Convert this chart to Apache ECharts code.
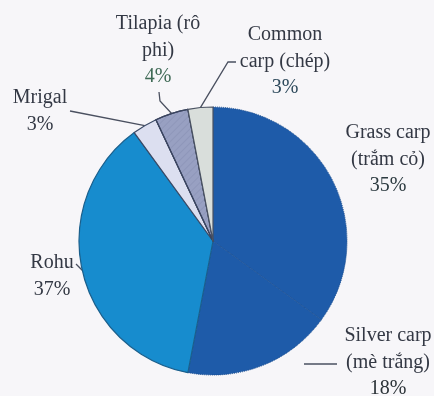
<!DOCTYPE html>
<html>
<head>
<meta charset="utf-8">
<script src="https://cdn.jsdelivr.net/npm/echarts@6/dist/echarts.min.js"></script>
<style>
  html, body { margin: 0; padding: 0; background: #f7f6f9; }
  #chart { width: 434px; height: 396px; }
</style>
</head>
<body>
<div id="chart"></div>
<script>
// Species share of farmed fish output (%)
const species = [
  'Grass carp\n(trắm cỏ)',
  'Silver carp\n(mè trắng)',
  'Rohu',
  'Mrigal',
  'Tilapia (rô\nphi)',
  'Common\ncarp (chép)'
];
const shares = [35, 18, 37, 3, 4, 3];

// Fill, outline and percent-text colour for each slice
const fills = ['#1e5ba9', '#1e5ba9', '#178cce', '#dcdff0', '#98a0c2', '#d9dedb'];
const outlines = ['#1a4d8f', '#1a4d8f', '#1a5f8c', '#3b4a66', '#3b4560', '#4a5262'];
const pctColors = ['#2c3a40', '#2c3338', '#333844', '#333844', '#3f6a56', '#2e4a5c'];

// Where each label block sits and how its leader line runs
const labelSpots = [
  { x: 388, y: 159, line: null },
  { x: 388, y: 362, line: [[304, 364], [337, 364]] },
  { x: 52, y: 276, line: 'edge', tail: [[76, 264]] },
  { x: 40, y: 111, line: 'edge', tail: [[70, 111]] },
  { x: 158, y: 50, line: 'edge', tail: [[160, 101], [159, 92]] },
  { x: 285, y: 61, line: 'edge', tail: [[228, 62], [236, 62]] }
];

const data = species.map((name, i) => ({
  name: name,
  value: shares[i],
  itemStyle: {
    color: fills[i],
    borderColor: outlines[i],
    borderWidth: i < 2 ? 1 : 1.2,
    borderType: i < 2 ? 'dotted' : 'solid',
    decal: i === 4 ? {
      symbol: 'rect',
      symbolSize: 1,
      dashArrayX: [1, 0],
      dashArrayY: [1, 4],
      rotation: -Math.PI / 4,
      color: 'rgba(70,80,120,0.12)'
    } : undefined
  },
  label: {
    rich: {
      p: { color: pctColors[i], fontFamily: 'Liberation Serif', fontSize: 20, lineHeight: 26 }
    }
  },
  labelLine: { show: labelSpots[i].line !== null }
}));

const chart = echarts.init(document.getElementById('chart'), null, { renderer: 'canvas' });
chart.setOption({
  backgroundColor: '#f7f6f9',
  animation: false,
  series: [{
    type: 'pie',
    center: [213, 241],
    radius: 134,
    startAngle: 90,
    clockwise: true,
    silent: true,
    data: data,
    label: {
      show: true,
      position: 'outside',
      alignTo: 'none',
      overflow: 'none',
      formatter: p => '{n|' + p.name + '}\n{p|' + p.value + '%}',
      rich: {
        n: { color: '#333844', fontFamily: 'Liberation Serif', fontSize: 20, lineHeight: 27, align: 'center' },
        p: { fontFamily: 'Liberation Serif', fontSize: 20, lineHeight: 26, align: 'center' }
      }
    },
    labelLine: {
      show: true,
      length: 10,
      length2: 10,
      smooth: false,
      lineStyle: { color: '#4a5060', width: 1.3 }
    },
    labelLayout: function (params) {
      const spot = labelSpots[params.dataIndex];
      const out = { x: spot.x, y: spot.y, align: 'center', verticalAlign: 'middle' };
      if (spot.line === 'edge' && params.labelLinePoints) {
        out.labelLinePoints = [params.labelLinePoints[0]].concat(spot.tail);
      } else if (Array.isArray(spot.line)) {
        out.labelLinePoints = spot.line;
      }
      return out;
    }
  }]
});
</script>
</body>
</html>
